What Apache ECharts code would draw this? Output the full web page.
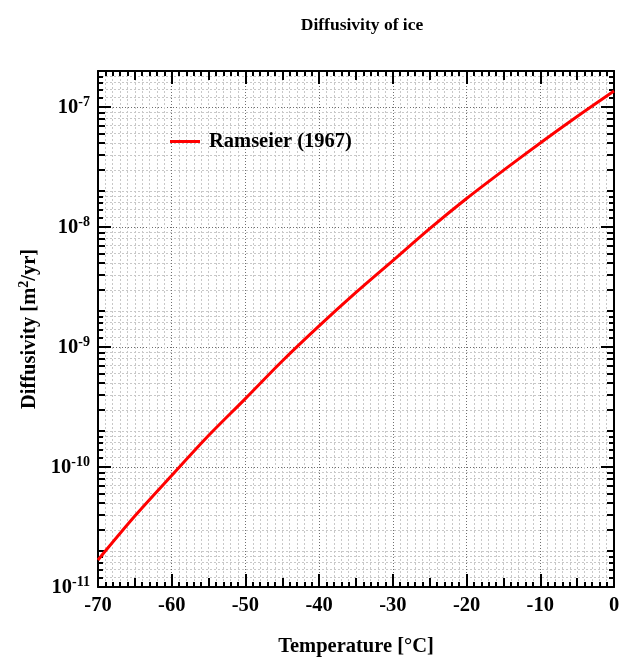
<!DOCTYPE html>
<html>
<head>
<meta charset="utf-8">
<script src="https://cdn.jsdelivr.net/npm/echarts@6/dist/echarts.min.js"></script>
<style>
html,body{margin:0;padding:0;background:#fff;}
#chart{width:622px;height:658px;}
</style>
</head>
<body>
<div id="chart"></div>
<script>
// ---- data ----
const temperatures = [-70, -65, -60, -55, -50, -45, -40, -35, -30, -25, -20, -15, -10, -5, 0];
const diffusivity = [1.68e-11, 3.9e-11, 8.5e-11, 1.83e-10, 3.72e-10, 7.65e-10, 1.5e-9, 2.85e-9, 5.25e-9, 9.7e-9, 1.73e-8, 2.97e-8, 5.02e-8, 8.34e-8, 1.36e-7];
const seriesName = 'Ramseier (1967)';
const xMajorTicks = [-70, -60, -50, -40, -30, -20, -10, 0];
const yMajorTicks = [1e-11, 1e-10, 1e-9, 1e-8, 1e-7];
const yFineMantissas = [1.2, 1.4, 1.6, 1.8];
const yMidMantissas = [2, 3, 4, 5, 6, 7, 8, 9];
const chartTitle = 'Diffusivity of ice';
const xTitle = 'Temperature [°C]';

// ---- derived tick lists ----
const xMidTicks = [];
const xMinorTicks = [];
for (let t = -70; t <= 0; t++) {
  if (t % 10 !== 0) xMinorTicks.push(t);
  if (t % 5 === 0 && t % 10 !== 0) xMidTicks.push(t);
}
const yFineTicks = [];
const yMidTicks = [];
for (let e = -11; e <= -7; e++) {
  yFineMantissas.forEach(m => yFineTicks.push(m * Math.pow(10, e)));
  yMidMantissas.forEach(m => { const v = m * Math.pow(10, e); if (v <= 2.0001e-7) yMidTicks.push(v); });
}

const FONT = 'Liberation Serif';
const FS = 20.5;
const X_MIN = -70, X_MAX = 0, Y_MIN = 1e-11, Y_MAX = 2e-7;
const minorGrid = {show: true, lineStyle: {color: '#c8c8c8', type: [2, 2], width: 1}};
const majorGrid = {show: true, lineStyle: {color: '#707070', type: [1, 2], width: 1}};

function xAx(pos, ticks, len, opts) {
  return Object.assign({
    type: 'value', min: X_MIN, max: X_MAX, position: pos,
    axisLine: {show: false, onZero: false},
    axisLabel: {show: false},
    axisTick: {show: true, inside: true, length: len, customValues: ticks, lineStyle: {color: '#000', width: 2}},
    splitLine: {show: false}
  }, opts || {});
}
function yAx(pos, ticks, len, opts) {
  return Object.assign({
    type: 'log', logBase: 10, min: Y_MIN, max: Y_MAX, position: pos,
    axisLine: {show: false, onZero: false},
    axisLabel: {show: false},
    axisTick: {show: true, inside: true, length: len, customValues: ticks, lineStyle: {color: '#000', width: 2}},
    splitLine: {show: false}
  }, opts || {});
}
const frameLine = {show: true, onZero: false, lineStyle: {color: '#000', width: 2}};

const option = {
  animation: false,
  backgroundColor: '#fff',
  title: {
    text: chartTitle, left: 357, top: 11, textAlign: 'center',
    textStyle: {fontFamily: FONT, fontWeight: 'bold', fontSize: 17.5, color: '#000'}
  },
  legend: {
    left: 165, top: 126, itemWidth: 30, itemHeight: 3, icon: 'rect',
    data: [seriesName],
    textStyle: {fontFamily: FONT, fontWeight: 'bold', fontSize: FS, color: '#000', padding: [0, 0, 0, 4]}
  },
  grid: {left: 98, right: 8, top: 71, bottom: 71, containLabel: false, outerBoundsMode: 'none'},
  xAxis: [
    xAx('bottom', xMinorTicks, 5, {splitLine: minorGrid}),
    xAx('bottom', xMidTicks, 9),
    xAx('bottom', xMajorTicks, 13, {
      axisLine: frameLine, splitLine: majorGrid,
      axisLabel: {show: true, customValues: xMajorTicks, margin: 8, fontFamily: FONT, fontWeight: 'bold', fontSize: FS, color: '#000'},
      name: xTitle, nameLocation: 'middle', nameGap: 49,
      nameTextStyle: {fontFamily: FONT, fontWeight: 'bold', fontSize: FS, color: '#000'}
    }),
    xAx('top', xMinorTicks, 5),
    xAx('top', xMidTicks, 9),
    xAx('top', xMajorTicks, 13, {axisLine: frameLine})
  ],
  yAxis: [
    yAx('left', yFineTicks, 5, {splitLine: minorGrid}),
    yAx('left', yMidTicks, 7, {splitLine: minorGrid}),
    yAx('left', yMajorTicks, 13, {
      axisLine: frameLine, splitLine: majorGrid,
      axisLabel: {
        show: true, customValues: yMajorTicks, margin: 8,
        formatter: v => '{b|10}{s|' + Math.round(Math.log10(v)) + '}',
        rich: {
          b: {fontFamily: FONT, fontWeight: 'bold', fontSize: FS, color: '#000', lineHeight: 23, verticalAlign: 'bottom'},
          s: {fontFamily: FONT, fontWeight: 'bold', fontSize: 14, color: '#000', lineHeight: 14, verticalAlign: 'top'}
        }
      },
      name: '{n|Diffusivity [m}{s|2}{n|/yr]}', nameLocation: 'middle', nameGap: 57, nameRotate: 90,
      nameTextStyle: {
        rich: {
          n: {fontFamily: FONT, fontWeight: 'bold', fontSize: FS, color: '#000', lineHeight: 23, verticalAlign: 'bottom'},
          s: {fontFamily: FONT, fontWeight: 'bold', fontSize: 14, color: '#000', lineHeight: 14, verticalAlign: 'top'}
        }
      }
    }),
    yAx('right', yFineTicks, 5),
    yAx('right', yMidTicks, 7),
    yAx('right', yMajorTicks, 13, {axisLine: frameLine})
  ],
  series: [{
    name: seriesName, type: 'line', xAxisIndex: 2, yAxisIndex: 2,
    data: temperatures.map((t, i) => [t, diffusivity[i]]),
    showSymbol: false, smooth: 0.3,
    lineStyle: {color: '#ff0000', width: 3},
    itemStyle: {color: '#ff0000'}
  }]
};

const chart = echarts.init(document.getElementById('chart'), null, {renderer: 'canvas'});
chart.setOption(option);
</script>
</body>
</html>
